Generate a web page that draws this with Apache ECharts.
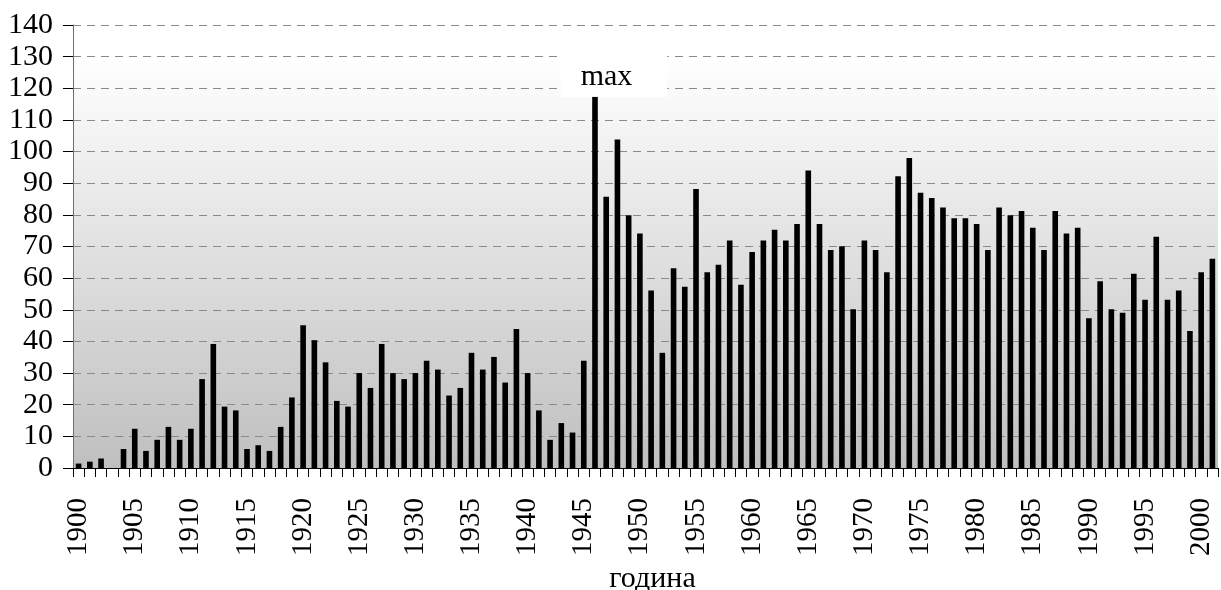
<!DOCTYPE html>
<html>
<head>
<meta charset="utf-8">
<script src="https://cdn.jsdelivr.net/npm/echarts@6/dist/echarts.min.js"></script>
<style>
html,body{margin:0;padding:0;background:#fff;}
#main{width:1221px;height:590px;}
</style>
</head>
<body>
<div id="main"></div>
<script>
// Categories: years 1900..2001
const years = ['1900','1901','1902','1903','1904','1905','1906','1907','1908','1909',
'1910','1911','1912','1913','1914','1915','1916','1917','1918','1919',
'1920','1921','1922','1923','1924','1925','1926','1927','1928','1929',
'1930','1931','1932','1933','1934','1935','1936','1937','1938','1939',
'1940','1941','1942','1943','1944','1945','1946','1947','1948','1949',
'1950','1951','1952','1953','1954','1955','1956','1957','1958','1959',
'1960','1961','1962','1963','1964','1965','1966','1967','1968','1969',
'1970','1971','1972','1973','1974','1975','1976','1977','1978','1979',
'1980','1981','1982','1983','1984','1985','1986','1987','1988','1989',
'1990','1991','1992','1993','1994','1995','1996','1997','1998','1999',
'2000','2001'];

const values = [1.4,2,3,0,6,12.4,5.4,8.9,13,8.9,
12.4,28.1,39.2,19.4,18.2,6,7.2,5.4,13,22.3,
45.1,40.4,33.4,21.2,19.4,30,25.3,39.2,30,28.1,
30,33.9,31.1,22.9,25.3,36.4,31.1,35.1,27,43.9,
30,18.2,8.9,14.2,11.2,33.9,117.3,85.7,103.8,79.9,
74.1,56.1,36.4,63.1,57.3,88.2,61.9,64.2,71.9,57.9,
68.3,71.9,75.3,71.9,77.1,94,77.1,68.9,70.1,50.2,
71.9,68.9,61.9,92.2,98,87,85.3,82.3,78.9,78.9,
77.1,68.9,82.3,79.9,81.2,75.9,68.9,81.2,74.1,75.9,
47.3,59,50.2,49.1,61.4,53.2,73.1,53.2,56.1,43.3,
61.9,66.1];

const yTicks = {min:0, max:140, interval:10};
const axisTitle = 'година';
const maxText = 'max';

const FONT = '"Liberation Serif","DejaVu Serif",serif';
const maxVal = Math.max(...values);
const maxIdx = values.indexOf(maxVal);

const seriesData = values.map((v,i)=>{
  if(i===maxIdx){
    return {value:v, label:{
      show:true, position:'top', distance:0, formatter:maxText,
      backgroundColor:'#ffffff', padding:[13,35,5,20], offset:[19,0],
      fontSize:30, fontFamily:FONT, color:'#000', lineHeight:30
    }};
  }
  return v;
});

const chart = echarts.init(document.getElementById('main'), null, {renderer:'canvas'});
chart.setOption({
  animation:false,
  backgroundColor:'#ffffff',
  grid:{left:73, right:3, top:25, bottom:122, containLabel:false, outerBoundsMode:'none',
    show:true, borderWidth:0,
    backgroundColor:{type:'linear', x:0, y:0, x2:0, y2:1, colorStops:[
      {offset:0, color:'#ffffff'},{offset:0.073, color:'#ffffff'},{offset:1, color:'#bfbfbf'}]}},
  xAxis:{
    type:'category', data:years, boundaryGap:true,
    name:axisTitle, nameLocation:'middle', nameGap:96,
    nameTextStyle:{fontSize:30, fontFamily:FONT, color:'#000', padding:[0,0,0,14]},
    axisLine:{show:true, lineStyle:{color:'#000', width:1}},
    axisTick:{show:true, interval:0, length:9, lineStyle:{color:'#000'}},
    axisLabel:{interval:4, rotate:90, margin:30, fontSize:29, fontFamily:FONT, color:'#000'},
    splitLine:{show:false}
  },
  yAxis:{
    type:'value', min:yTicks.min, max:yTicks.max, interval:yTicks.interval,
    axisLine:{show:true, lineStyle:{color:'#6e6e6e', width:1}},
    axisTick:{show:true, length:10, lineStyle:{color:'#000'}},
    axisLabel:{margin:20, fontSize:30, fontFamily:FONT, color:'#000'},
    splitLine:{show:true, lineStyle:{color:'#8a8a8a', type:[8,6], width:1}}
  },
  series:[{
    type:'bar', data:seriesData, barWidth:'50%',
    itemStyle:{color:'#000000'}
  }]
});
</script>
</body>
</html>
